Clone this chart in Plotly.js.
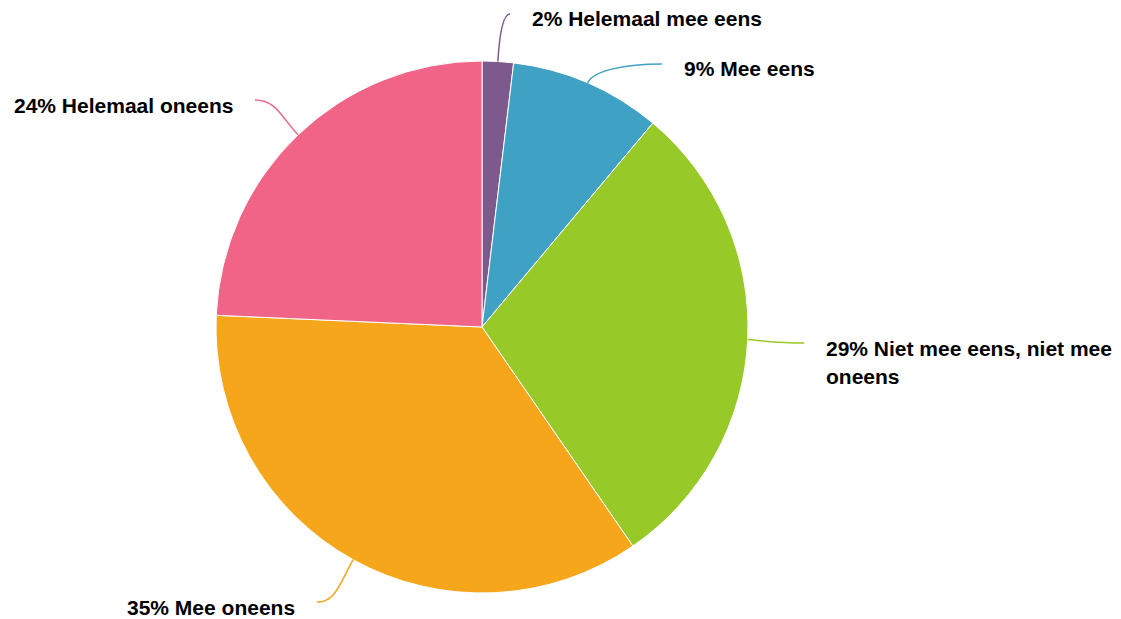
<!DOCTYPE html>
<html>
<head>
<meta charset="utf-8">
<script src="https://cdn.plot.ly/plotly-3.0.1.min.js"></script>
<style>html,body{margin:0;padding:0;background:#fff;}#chart{width:1121px;height:619px;}</style>
</head>
<body>
<div id="chart"></div>
<script>
// ---- data ----
const categories = ["Helemaal mee eens", "Mee eens", "Niet mee eens, niet mee oneens", "Mee oneens", "Helemaal oneens"];
const values = [1.9, 9.2, 29.3, 35.3, 24.3];
const colors = ["#7d5a8c", "#3fa2c4", "#97c929", "#f5a61a", "#f06487"];

// ---- layout config (pixels) ----
const W = 1121, H = 619;
const cx = 482, cy = 327, R = 266;
// label anchor: x = text edge, y = first-line centre, side: 1 = right of pie, -1 = left
const labelPos = [
  {x: 530, y: 19, side: 1},
  {x: 682, y: 69, side: 1},
  {x: 824, y: 348, side: 1},
  {x: 297, y: 607, side: -1},
  {x: 235, y: 105, side: -1}
];
const maxChars = 27;
const fontSize = 21;
const lineGap = 28;

function px(x) { return x / W; }
function py(y) { return 1 - y / H; }
function wrap(s) {
  const words = s.split(" ");
  const lines = [];
  let cur = "";
  words.forEach(w => {
    const t = cur ? cur + " " + w : w;
    if (t.length > maxChars && cur) { lines.push(cur); cur = w; } else cur = t;
  });
  if (cur) lines.push(cur);
  return lines;
}

const total = values.reduce((a, b) => a + b, 0);
const annotations = [];
const shapes = [];
let cum = 0;
values.forEach((v, i) => {
  const mid = (cum + v / 2) / total * 2 * Math.PI;
  cum += v;
  const dirx = Math.sin(mid), diry = -Math.cos(mid);
  const sx = cx + R * dirx, sy = cy + R * diry;
  const lp = labelPos[i];
  const ex = lp.x - lp.side * 20, ey = lp.y - 5;
  const dy = Math.abs(ey - sy), dx = Math.abs(ex - sx);
  const L1 = 0.7 * dy, L2 = 0.5 * dx;
  const c1x = sx + dirx * L1, c1y = sy + diry * L1;
  const c2x = ex - lp.side * L2, c2y = ey;
  shapes.push({
    type: "path", xref: "paper", yref: "paper",
    path: `M ${px(sx)},${py(sy)} C ${px(c1x)},${py(c1y)} ${px(c2x)},${py(c2y)} ${px(ex)},${py(ey)}`,
    line: {color: colors[i], width: 1.5}
  });
  const text = Math.round(v) + "% " + categories[i];
  wrap(text).forEach((ln, k) => {
    annotations.push({
      xref: "paper", yref: "paper",
      x: px(lp.x), y: py(lp.y + k * lineGap),
      xanchor: lp.side > 0 ? "left" : "right", yanchor: "middle",
      text: "<b>" + ln + "</b>", showarrow: false,
      font: {family: "Liberation Sans, Arial, sans-serif", size: fontSize, color: "#000"}
    });
  });
});

const trace = {
  type: "pie",
  labels: categories,
  values: values,
  sort: false,
  direction: "clockwise",
  rotation: 0,
  textinfo: "none",
  hoverinfo: "label+percent",
  marker: {colors: colors, line: {color: "#ffffff", width: 1}},
  domain: {x: [px(cx - R), px(cx + R)], y: [py(cy + R), py(cy - R)]},
  showlegend: false
};

Plotly.newPlot("chart", [trace], {
  width: W, height: H,
  margin: {l: 0, r: 0, t: 0, b: 0},
  paper_bgcolor: "#fff",
  showlegend: false,
  annotations: annotations,
  shapes: shapes
}, {displayModeBar: false, staticPlot: true});
</script>
</body>
</html>
